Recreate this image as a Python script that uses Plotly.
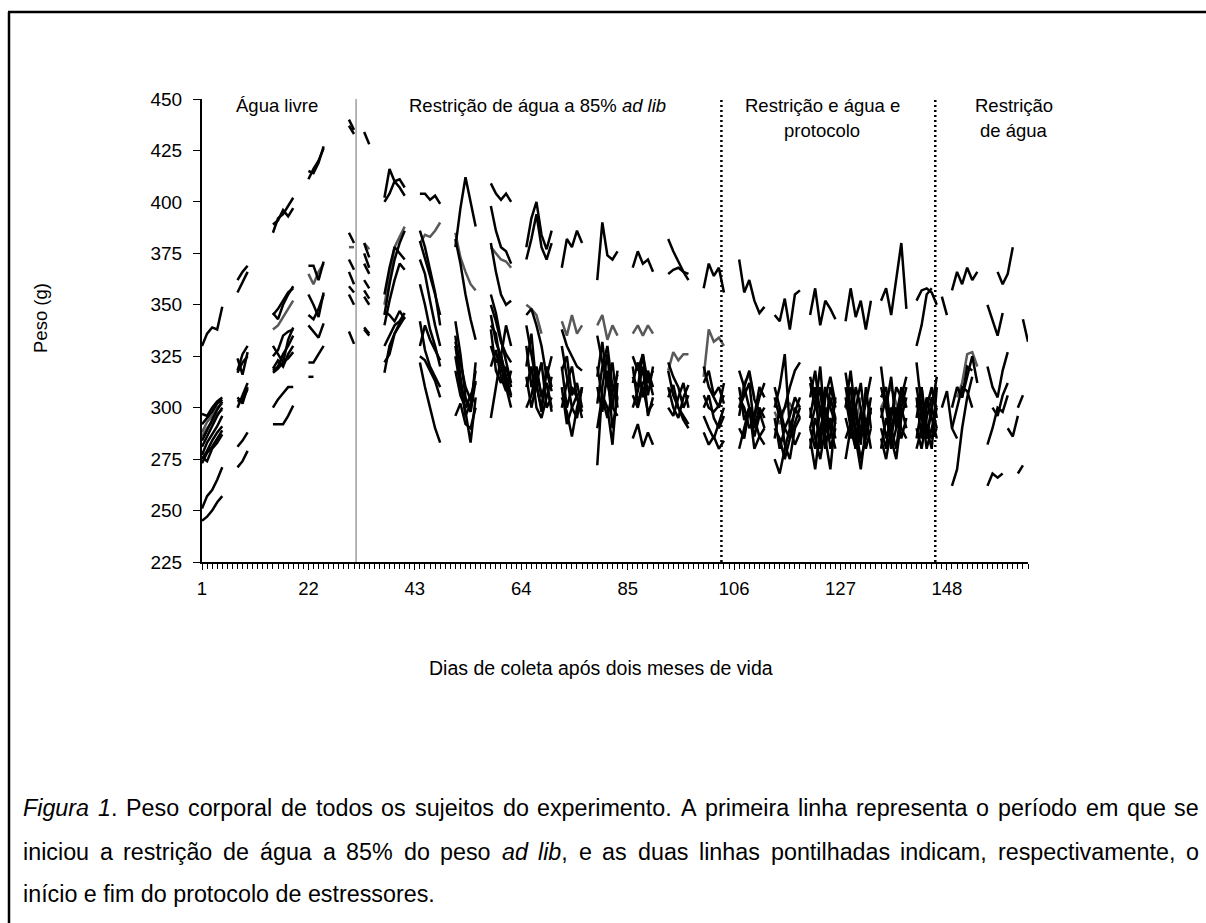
import plotly.graph_objects as go

# ---------------- DATA ----------------
# start day of each weekly block of measurements
inicio_semana = [1, 8, 15, 22, 30, 33, 37, 44, 51, 58, 65, 72, 79, 86, 93, 100, 107, 114, 121, 128, 135, 142]

pesos_s01 = [[330, 336, 339, 338, 349], [297, 296, 300, 303, 305], [292, 295, 298, 302, 304],
             [284, 289, 294, 299, 303], [281, 286, 291, 296, 300], [277, 283, 287, 291, 296],
             [275, 279, 284, 288, 291], [273, 278, 281, 285, 289], [276, 274, 280, 283, 287],
             [251, 257, 260, 265, 271], [245, 247, 250, 254, 257]]
pesos_s02 = [[362, 366, 369], [356, 361, 366], [318, 326, 330], [324, 316, 327], [317, 322, 325],
             [300, 306, 312], [303, 304, 309], [305, 302, 310], [281, 284, 288], [271, 274, 279]]
pesos_s03 = [[385, 392, 394, 398, 402], [389, 391, 396, 393, 397], [346, 343, 350, 355, 359],
             [345, 348, 352, 356, 358], [330, 326, 322, 333, 339], [325, 328, 335, 337, 338],
             [318, 320, 326, 330, 335], [319, 323, 320, 326, 330], [317, 319, 322, 324, 327],
             [300, 304, 307, 310, 310], [292, 292, 292, 296, 301]]
pesos_s04 = [[411, 416, 420, 426], [415, 414, 419, 427], [369, 369, 362, 371], [355, 350, 344, 356],
             [345, 343, 348, 355], [340, 337, 334, 341], [322, 322, 326, 330], [315, 315]]
pesos_s05 = [[440, 435], [437, 433], [385, 380], [372, 367], [366, 360], [359, 356], [355, 350], [337, 331]]
pesos_s06 = [[434, 428], [380, 373], [375, 368], [370, 365], [362, 358], [357, 353], [354, 350],
             [339, 336], [338, 335]]
pesos_s07 = [[402, 416, 410, 407, 403], [400, 404, 410, 411, 407], [345, 360, 372, 380, 386],
             [355, 368, 378, 375, 372], [340, 352, 362, 370, 367], [347, 345, 342, 347, 343],
             [330, 335, 340, 342, 346], [317, 330, 336, 340, 344], [322, 326, 336, 341, 344]]
pesos_s08 = [[404, 404, 401, 403, 399], [381, 373, 364, 355, 345], [386, 378, 367, 356, 340],
             [372, 365, 352, 340, 330], [360, 350, 338, 330, 320], [330, 340, 333, 328, 323],
             [342, 328, 320, 315, 310], [325, 323, 318, 313, 305], [322, 310, 300, 290, 283]]
pesos_s09 = [[378, 397, 412, 400, 388], [382, 370, 355, 343, 333], [335, 315, 298, 283, 305],
             [330, 312, 296, 302, 318], [318, 306, 300, 306, 312], [325, 310, 304, 298, 313],
             [332, 322, 310, 304, 303], [342, 326, 305, 298, 322], [296, 302, 292, 290, 300]]
pesos_s10 = [[409, 404, 401, 404, 400], [398, 386, 378, 376, 370], [380, 366, 355, 350, 352],
             [355, 346, 333, 322, 312], [350, 342, 332, 326, 322], [345, 332, 325, 316, 306],
             [340, 336, 320, 310, 300], [330, 322, 326, 312, 305], [295, 310, 326, 340, 330],
             [338, 318, 312, 320, 310], [320, 328, 315, 308, 318]]
pesos_s11 = [[378, 392, 400, 384, 377, 386], [372, 382, 394, 378, 372, 380], [345, 348, 340, 330, 315, 325],
             [320, 336, 310, 300, 320, 310], [330, 310, 320, 305, 312, 300], [315, 300, 312, 322, 300, 305],
             [300, 306, 318, 306, 312, 298], [340, 325, 312, 298, 318, 308], [310, 320, 300, 295, 305, 315]]
pesos_s12 = [[368, 382, 378, 386, 380], [338, 330, 325, 320, 318], [318, 325, 306, 312, 300],
             [320, 300, 310, 305, 295], [310, 292, 300, 306, 308], [305, 298, 286, 300, 310],
             [330, 316, 300, 295, 310], [300, 312, 320, 305, 298]]
pesos_s13 = [[362, 390, 374, 372, 376], [315, 332, 310, 322, 300], [302, 320, 330, 310, 305],
             [272, 310, 326, 300, 296], [290, 306, 300, 282, 312], [320, 305, 295, 308, 316],
             [335, 322, 312, 300, 318], [310, 298, 318, 290, 305]]
pesos_s14 = [[368, 376, 370, 372, 366], [325, 318, 326, 312, 318], [315, 310, 326, 306, 320],
             [320, 302, 312, 316, 306], [306, 300, 310, 298, 302], [285, 292, 281, 288, 282],
             [312, 322, 305, 318, 310], [300, 308, 320, 296, 305]]
pesos_s15 = [[382, 376, 371, 366, 365], [365, 367, 368, 366, 362], [322, 315, 310, 300, 306],
             [310, 300, 295, 305, 311], [305, 311, 300, 294, 290], [318, 306, 300, 296, 292],
             [300, 296, 305, 312, 300]]
pesos_s16 = [[358, 370, 364, 368, 356], [320, 310, 305, 300, 312], [306, 300, 298, 301, 306],
             [300, 306, 295, 290, 296], [288, 282, 286, 280, 284], [296, 290, 285, 292, 300],
             [312, 318, 306, 310, 302]]
pesos_s17 = [[372, 356, 362, 352, 346, 349], [318, 310, 300, 296, 310, 305], [300, 306, 312, 290, 300, 295],
             [310, 294, 300, 280, 286, 290], [290, 285, 300, 295, 305, 312], [280, 290, 300, 286, 296, 300],
             [305, 300, 290, 295, 286, 282], [296, 310, 318, 304, 298, 290]]
pesos_s18 = [[345, 342, 353, 338, 355, 357], [300, 310, 326, 290, 298, 305], [295, 280, 290, 296, 305, 300],
             [285, 300, 282, 275, 290, 295], [290, 285, 275, 285, 300, 295], [310, 300, 290, 285, 292, 300],
             [275, 268, 280, 290, 282, 288], [305, 295, 300, 310, 318, 322]]
pesos_s19 = [[345, 358, 340, 352, 348, 343], [315, 305, 300, 290, 310, 300], [300, 285, 275, 290, 305, 295],
             [290, 280, 300, 285, 270, 295], [280, 295, 285, 300, 290, 280], [312, 300, 320, 290, 285, 305],
             [285, 270, 290, 300, 280, 290], [305, 318, 296, 310, 300, 292], [295, 310, 280, 305, 315, 302],
             [290, 300, 310, 280, 295, 285]]
pesos_s20 = [[342, 358, 344, 352, 338, 352], [317, 300, 290, 275, 285, 300], [300, 310, 285, 270, 290, 305],
             [285, 292, 310, 300, 280, 290], [310, 295, 280, 290, 302, 315], [275, 290, 300, 285, 295, 280],
             [295, 285, 300, 312, 290, 298], [300, 318, 296, 282, 310, 290], [305, 290, 280, 298, 286, 300]]
pesos_s21 = [[352, 358, 345, 362, 380, 348], [320, 300, 285, 275, 295, 305], [305, 310, 290, 280, 300, 290],
             [290, 280, 300, 295, 310, 300], [280, 295, 285, 300, 290, 285], [300, 285, 295, 310, 305, 315],
             [285, 275, 290, 300, 285, 295], [310, 300, 315, 290, 305, 300], [295, 305, 280, 290, 300, 310]]
pesos_s22 = [[352, 357, 358, 356, 350], [330, 340, 355, 358], [322, 300, 290, 280, 310],
             [295, 310, 285, 300, 290], [280, 290, 305, 295, 285], [305, 285, 300, 310, 295],
             [285, 300, 280, 290, 300], [310, 295, 285, 300, 315], [290, 280, 295, 305, 300],
             [300, 310, 292, 285, 290]]

# segments after the end of the stress protocol (each with its own start day)
pos_inicio = [147, 149, 156, 158, 163, 147, 149, 149, 150, 149, 156, 156, 156, 157, 162, 162, 160]
pos_pesos = [[354, 345], [357, 366, 360, 368, 362, 366], [350, 342, 335, 346], [366, 360, 365, 378],
             [343, 332], [300, 308, 290, 285], [262, 270, 290, 305, 315], [300, 310, 305, 320, 318],
             [310, 305, 315, 325, 312], [290, 300, 310, 308, 300], [262, 268, 266, 268],
             [282, 290, 300, 298, 306], [320, 310, 305, 318, 327], [300, 296, 306, 312],
             [300, 306], [268, 272], [290, 286, 296]]

# segments drawn in dark grey
cinza_inicio = [1, 1, 15, 22, 30, 33, 37, 44, 51, 58, 65, 72, 79, 86, 93, 100, 107, 114, 128, 135, 150]
cinza_pesos = [[288, 293, 296, 300, 302], [286, 290, 293, 297, 299], [338, 340, 344, 348, 352],
               [365, 360, 366, 370], [378, 378], [380, 377], [350, 365, 378, 383, 388],
               [380, 384, 383, 386, 390], [385, 373, 366, 360, 357], [378, 375, 372, 371, 368],
               [350, 348, 345, 336], [342, 335, 345, 336, 340], [340, 345, 333, 340, 335],
               [336, 340, 335, 340, 336], [318, 327, 323, 326, 326], [315, 338, 332, 334, 330],
               [300, 312, 316, 305], [298, 292, 300, 302, 298], [300, 298, 292, 305],
               [300, 305, 310, 302, 296], [305, 312, 326, 327, 320]]

# days where the phases change (solid: start of restriction; dotted: protocol start / end)
marcos_dias = [31.4, 103.5, 145.7]

x_ticks = [1, 22, 43, 64, 85, 106, 127, 148]
y_ticks = [225, 250, 275, 300, 325, 350, 375, 400, 425, 450]

legenda_linhas = [
    "<i>Figura</i> <i>1</i>. Peso corporal de todos os sujeitos do experimento. A primeira linha representa o período em que se",
    "iniciou a restrição de água a 85% do peso <i>ad</i> <i>lib</i>, e as duas linhas pontilhadas indicam, respectivamente, o",
    "início e fim do protocolo de estressores.",
]

# ---------------- BUILD ----------------
semanas = [pesos_s01, pesos_s02, pesos_s03, pesos_s04, pesos_s05, pesos_s06, pesos_s07, pesos_s08,
           pesos_s09, pesos_s10, pesos_s11, pesos_s12, pesos_s13, pesos_s14, pesos_s15, pesos_s16,
           pesos_s17, pesos_s18, pesos_s19, pesos_s20, pesos_s21, pesos_s22]


def junta(pares):
    xs, ys = [], []
    for ini, vals in pares:
        for k, v in enumerate(vals):
            xs.append(ini + k)
            ys.append(v)
        xs.append(None)
        ys.append(None)
    return xs, ys


pares_pretos = []
for ini, segs in zip(inicio_semana, semanas):
    for s in segs:
        pares_pretos.append((ini, s))
pares_pretos += list(zip(pos_inicio, pos_pesos))

xb, yb = junta(pares_pretos)
xg, yg = junta(list(zip(cinza_inicio, cinza_pesos)))

FONT = "Liberation Sans, Arial, sans-serif"

fig = go.Figure()
fig.add_trace(go.Scatter(x=xg, y=yg, mode="lines", line=dict(color="#595959", width=2.5),
                         connectgaps=False, showlegend=False, hoverinfo="skip"))
fig.add_trace(go.Scatter(x=xb, y=yb, mode="lines", line=dict(color="#000000", width=2.5),
                         connectgaps=False, showlegend=False, hoverinfo="skip"))

# phase markers
fig.add_shape(type="line", x0=marcos_dias[0], x1=marcos_dias[0], y0=225, y1=450,
              xref="x", yref="y", line=dict(color="#6e6e6e", width=1))
for d in marcos_dias[1:]:
    fig.add_shape(type="line", x0=d, x1=d, y0=225, y1=450, xref="x", yref="y",
                  line=dict(color="#000000", width=2.5, dash="2px,3px"))

L, R, T, B = 202, 1028, 99, 562
W, H = 1206, 923


def px(v):
    return (v - L) / (R - L)


def py(v):
    return (B - v) / (B - T)


# figure frame (top and left edges)
fig.add_shape(type="line", xref="paper", yref="paper", x0=px(8), x1=px(1206), y0=py(12), y1=py(12),
              line=dict(color="black", width=2.5))
fig.add_shape(type="line", xref="paper", yref="paper", x0=px(9), x1=px(9), y0=py(12), y1=py(923),
              line=dict(color="black", width=2.5))

anots = [
    ("Água livre", 277, 106),
    ("Restrição de água a 85% <i>ad lib</i>", 537, 106),
    ("Restrição e água e", 822, 106),
    ("protocolo", 822, 131),
    ("Restrição", 1014, 106),
    ("de água", 1014, 131),
]
for txt, ax_, ay_ in anots:
    fig.add_annotation(text=txt, x=px(ax_), y=py(ay_), xref="paper", yref="paper",
                       showarrow=False, xanchor="center", yanchor="middle",
                       font=dict(family=FONT, size=18.5, color="black"))

fig.add_annotation(text="Peso (g)", x=px(40), y=py(318), xref="paper", yref="paper", textangle=-90,
                   showarrow=False, xanchor="center", yanchor="middle",
                   font=dict(family=FONT, size=18.5, color="black"))
fig.add_annotation(text="Dias de coleta após dois meses de vida", x=px(601), y=py(668),
                   xref="paper", yref="paper", showarrow=False, xanchor="center", yanchor="middle",
                   font=dict(family=FONT, size=19.5, color="black"))

# caption: first two lines justified between x=22 and x=1198 px
LARG = {" ": 278, "a": 556, "b": 556, "c": 500, "d": 556, "e": 556, "f": 278, "g": 556, "h": 556,
        "i": 222, "j": 222, "k": 500, "l": 222, "m": 833, "n": 556, "o": 556, "p": 556, "q": 556,
        "r": 333, "s": 500, "t": 278, "u": 556, "v": 500, "w": 722, "x": 500, "y": 500, "z": 500,
        "í": 278, "ç": 500, "ã": 556, "á": 556, "F": 611, "P": 667, "A": 667, ".": 278, ",": 278,
        "%": 889}
FS_LEG = 23.3


def largura(palavra):
    limpa = palavra.replace("<i>", "").replace("</i>", "")
    return sum(LARG.get(c, 556) for c in limpa) * FS_LEG / 1000.0


ys_leg = [808, 852, 894]
for i, (linha, yy) in enumerate(zip(legenda_linhas, ys_leg)):
    if i < 2:
        palavras = linha.split(" ")
        total = sum(largura(p) for p in palavras)
        gap = (1198 - 22 - total) / (len(palavras) - 1)
        xcur = 22
        for p in palavras:
            fig.add_annotation(text=p, x=px(xcur), y=py(yy), xref="paper", yref="paper",
                               showarrow=False, xanchor="left", yanchor="middle", borderpad=0,
                               font=dict(family=FONT, size=FS_LEG, color="black"))
            xcur += largura(p) + gap
    else:
        fig.add_annotation(text=linha, x=px(22), y=py(yy), xref="paper", yref="paper", showarrow=False,
                           xanchor="left", yanchor="middle", borderpad=0,
                           font=dict(family=FONT, size=FS_LEG, color="black"))

fig.update_layout(
    width=W, height=H,
    margin=dict(l=L, r=W - R, t=T, b=H - B),
    paper_bgcolor="white", plot_bgcolor="white",
    font=dict(family=FONT, size=18, color="black"),
    xaxis=dict(range=[1, 164], tickmode="array", tickvals=x_ticks, ticktext=[str(t) for t in x_ticks],
               showgrid=False, zeroline=False, showline=True, linecolor="black", linewidth=2,
               ticks="outside", ticklen=6, tickwidth=1, tickcolor="black", ticklabelstandoff=3,
               minor=dict(ticks="outside", dtick=1, tick0=1, ticklen=5, tickwidth=1, tickcolor="black"),
               tickfont=dict(family=FONT, size=18.5, color="black")),
    yaxis=dict(range=[225, 450], tickmode="array", tickvals=y_ticks, showgrid=False, zeroline=False,
               showline=True, linecolor="black", linewidth=2, ticks="outside", ticklen=7,
               tickwidth=1, tickcolor="black", ticklabelstandoff=7,
               tickfont=dict(family=FONT, size=19, color="black")),
)

fig.write_html("out.html")
